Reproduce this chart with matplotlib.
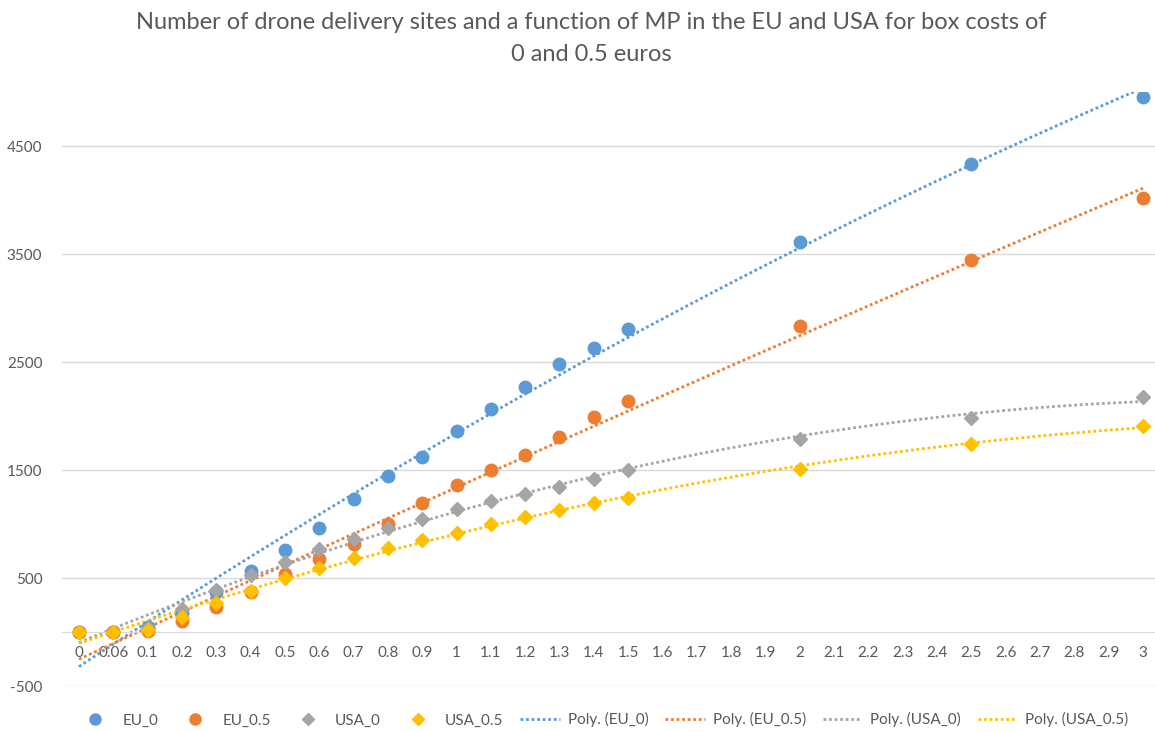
import numpy as np
import matplotlib.pyplot as plt
from matplotlib.lines import Line2D

plt.rcParams['font.family'] = ['Lato', 'DejaVu Sans']
plt.rcParams['axes.unicode_minus'] = False

# category axis (Excel line chart, equally spaced labels)
categories = ['0', '0.06', '0.1', '0.2', '0.3', '0.4', '0.5', '0.6', '0.7', '0.8', '0.9',
              '1', '1.1', '1.2', '1.3', '1.4', '1.5', '1.6', '1.7', '1.8', '1.9',
              '2', '2.1', '2.2', '2.3', '2.4', '2.5', '2.6', '2.7', '2.8', '2.9', '3']

# categories that hold data
data_cats = ['0', '0.06', '0.1', '0.2', '0.3', '0.4', '0.5', '0.6', '0.7', '0.8', '0.9',
             '1', '1.1', '1.2', '1.3', '1.4', '1.5', '2', '2.5', '3']

eu_0 = [0, 0, 45, 180, 370, 565, 760, 965, 1230, 1445, 1620, 1860, 2065, 2270, 2480, 2630, 2810, 3610, 4335, 4955]
eu_05 = [0, 0, 5, 100, 230, 370, 535, 680, 815, 1000, 1195, 1360, 1500, 1640, 1805, 1990, 2140, 2835, 3445, 4020]
usa_0 = [0, 0, 40, 215, 390, 530, 650, 770, 860, 965, 1045, 1140, 1215, 1280, 1345, 1420, 1500, 1785, 1980, 2175]
usa_05 = [0, 0, 20, 140, 270, 380, 500, 595, 685, 780, 850, 915, 1000, 1065, 1130, 1195, 1240, 1510, 1740, 1905]

names = ['EU_0', 'EU_0.5', 'USA_0', 'USA_0.5']
colors = ['#5B9BD5', '#ED7D31', '#A5A5A5', '#FFC000']
markers = ['o', 'o', 'D', 'D']
series = [eu_0, eu_05, usa_0, usa_05]

xi = np.array([categories.index(c) for c in data_cats])
xfit = np.linspace(0, len(categories) - 1, 300)

fig = plt.figure(figsize=(11.55, 7.31), dpi=100)
ax = fig.add_axes([0.0535, 1 - 686 / 731, 0.9465, (686 - 92) / 731])

handles_pts = []
handles_trend = []
for name, col, mk, vals in zip(names, colors, markers, series):
    ms = 9 if mk == 'o' else 7.5
    ax.plot(xi, vals, linestyle='none', marker=mk, color=col, markersize=ms, zorder=3)
    # polynomial (order 2) trendline like Excel
    coef = np.polyfit(xi, vals, 2)
    ax.plot(xfit, np.polyval(coef, xfit), color=col, linestyle=(0, (1, 1)), linewidth=2, zorder=2)
    handles_pts.append(Line2D([], [], linestyle='none', marker=mk, color=col, markersize=ms - 1, label=name))
    handles_trend.append(Line2D([], [], color=col, linestyle=(0, (1, 1)), linewidth=2, label='Poly. (' + name + ')'))

ax.set_xlim(-0.5, 31.35)
ax.set_ylim(-500, 5000)
ax.set_yticks([-500, 500, 1500, 2500, 3500, 4500])
ax.set_xticks(range(len(categories)))
ax.set_xticklabels(categories)
ax.yaxis.grid(True, color='#D9D9D9', linewidth=1)
ax.set_axisbelow(True)
for s in ['top', 'right', 'left']:
    ax.spines[s].set_visible(False)
ax.spines['bottom'].set_position(('data', 0))
ax.spines['bottom'].set_color('#D9D9D9')
ax.tick_params(axis='both', length=0, labelsize=11, labelcolor='#595959')
ax.tick_params(axis='x', pad=10)
ax.tick_params(axis='y', pad=14)

fig.text(0.512, 0.983, 'Number of drone delivery sites and a function of MP in the EU and USA for box costs of\n0 and 0.5 euros',
         ha='center', va='top', fontsize=17, color='#595959', linespacing=1.65)

fig.legend(handles=handles_pts + handles_trend, loc='lower center', bbox_to_anchor=(0.521, -0.014), ncol=8,
           frameon=False, fontsize=11, labelcolor='#595959', handlelength=2.6, handletextpad=0.5,
           columnspacing=1.1)

plt.savefig('out.png', dpi=100)
